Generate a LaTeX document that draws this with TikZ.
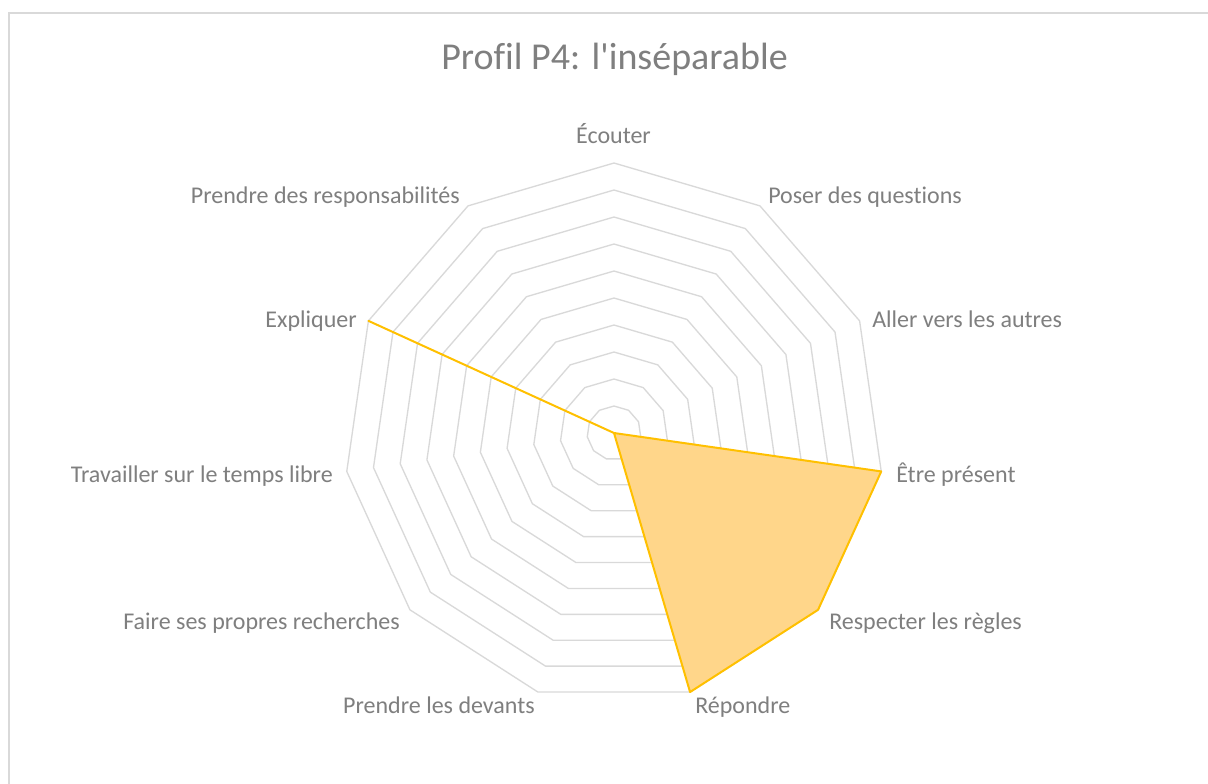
\documentclass[tikz,border=0pt]{standalone}
\usepackage{fontspec}
\setmainfont{Carlito}[Ligatures={TeXOff,NoCommon}]
\definecolor{gridc}{HTML}{D9D9D9}
\definecolor{txt}{HTML}{7F7F7F}
\definecolor{ser}{HTML}{FFC000}
\definecolor{serfill}{HTML}{FFD68A}
\tikzset{
  ringline/.style={draw=gridc, line width=1pt, line join=round},
  axlabel/.style={text=txt, font=\fontsize{18}{21}\selectfont, inner sep=0pt},
  titletext/.style={text=txt, font=\fontsize{28.5}{32}\selectfont, inner sep=0pt},
  serline/.style={draw=ser, line width=1.5pt, line join=round},
  frameline/.style={draw=gridc, line width=1.2pt}
}
\begin{document}
\begin{tikzpicture}[x=0.75pt,y=-0.75pt]
\useasboundingbox (0,0) rectangle (1208,783);
\fill[white] (0,0) rectangle (1208,783);
\coordinate (fA) at (9,800);
\coordinate (fB) at (9,13);
\coordinate (fC) at (1220,13);
\draw[frameline] (fA) -- (fB) -- (fC);
\node[titletext, anchor=base] (title) at (614.5,69) {Profil P4: l'inséparable};
\begin{scope}[shift={(614,433)}, x=0.75pt, y=0.75pt]
  \foreach \k in {1,...,10}{
    \pgfmathsetmacro{\rr}{27*\k}
    \draw[ringline] (90:\rr) \foreach \i in {1,...,10}{ -- ({90-\i*360/11}:\rr) } -- cycle;
  }
  \coordinate (O) at (0,0);
  \foreach \i/\nm in {0/v0,1/v1,2/v2,3/v3,4/v4,5/v5,6/v6,7/v7,8/v8,9/v9,10/v10}{
    \coordinate (\nm) at ({90-\i*360/11}:270);
  }
  \fill[serfill] (O) -- (v3) -- (v4) -- (v5) -- cycle;
  \draw[serline] (O) -- (v3) -- (v4) -- (v5) -- (O) -- (v9) -- (O);
\end{scope}
\node[axlabel, anchor=base] (l0) at (613.5,143) {Écouter};
\node[axlabel, anchor=base west] (l1) at (768,203.5) {Poser des questions};
\node[axlabel, anchor=base west] (l2) at (872,327) {Aller vers les autres};
\node[axlabel, anchor=base west] (l3) at (896,482.5) {Être présent};
\node[axlabel, anchor=base west] (l4) at (829,629) {Respecter les règles};
\node[axlabel, anchor=base west] (l5) at (695,713.5) {Répondre};
\node[axlabel, anchor=base east] (l6) at (535,713.5) {Prendre les devants};
\node[axlabel, anchor=base east] (l7) at (400,629) {Faire ses propres recherches};
\node[axlabel, anchor=base east] (l8) at (333,482.5) {Travailler sur le temps libre};
\node[axlabel, anchor=base east] (l9) at (357,327) {Expliquer};
\node[axlabel, anchor=base east] (l10) at (460,203.5) {Prendre des responsabilités};
\end{tikzpicture}
\end{document}
